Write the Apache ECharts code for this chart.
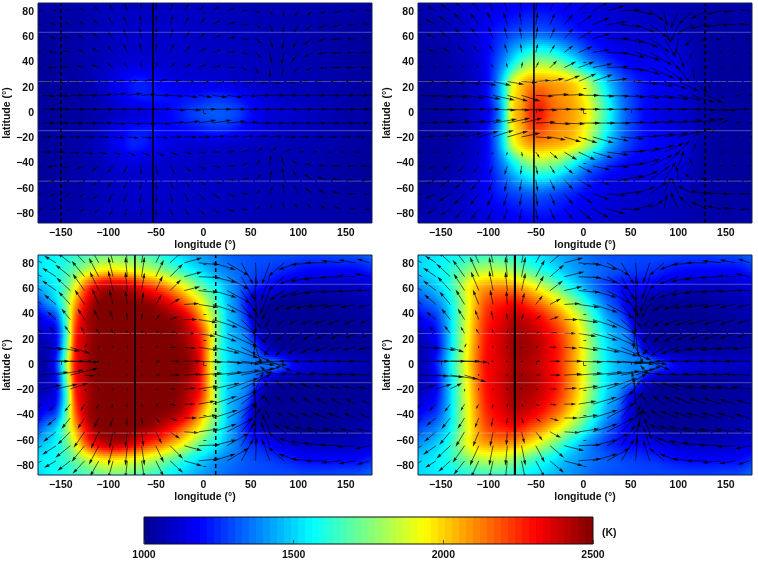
<!DOCTYPE html>
<html>
<head>
<meta charset="utf-8">
<style>html,body{margin:0;padding:0;background:#fff}#chart{width:758px;height:561px}</style>
<script src="https://cdn.jsdelivr.net/npm/echarts@6/dist/echarts.min.js"></script>
</head>
<body>
<div id="chart"></div>
<script>
// Temperature sample positions (degrees)
const tempLons = [-175,-165,-155,-145,-135,-125,-115,-105,-95,-85,-75,-65,-55,-45,-35,-25,-15,-5,5,15,25,35,45,55,65,75,85,95,105,115,125,135,145,155,165,178];
const tempLats = [88,75,63,50,38,25,13,0,-13,-25,-38,-50,-63,-75,-88];

// Temperature maps (K), one row per latitude from north to south
const temp1 = [
[1040,1040,1040,1040,1050,1050,1060,1060,1070,1070,1070,1080,1080,1080,1080,1080,1080,1080,1080,1070,1070,1070,1060,1060,1060,1060,1060,1060,1050,1050,1050,1050,1040,1040,1040,1040],
[1030,1030,1030,1040,1040,1050,1060,1070,1080,1080,1090,1090,1090,1090,1090,1090,1090,1090,1080,1080,1070,1070,1070,1060,1060,1060,1060,1050,1050,1050,1040,1040,1040,1040,1030,1030],
[1030,1030,1030,1030,1040,1050,1060,1070,1080,1090,1090,1100,1100,1100,1100,1100,1090,1090,1090,1080,1080,1070,1070,1070,1060,1060,1060,1060,1050,1050,1040,1040,1030,1030,1030,1030],
[1020,1020,1030,1030,1040,1050,1060,1070,1080,1090,1100,1100,1100,1100,1100,1100,1090,1090,1090,1090,1080,1080,1070,1070,1060,1060,1060,1060,1060,1050,1040,1040,1030,1030,1020,1020],
[1020,1020,1020,1030,1040,1050,1060,1080,1100,1120,1130,1130,1120,1110,1100,1100,1100,1100,1090,1090,1090,1080,1080,1070,1070,1060,1060,1060,1060,1050,1050,1040,1030,1030,1020,1020],
[1020,1020,1020,1030,1030,1050,1070,1100,1140,1170,1210,1220,1200,1170,1150,1130,1120,1120,1120,1120,1110,1100,1090,1080,1080,1070,1070,1060,1060,1060,1050,1050,1040,1030,1030,1020],
[1020,1020,1020,1030,1030,1040,1060,1090,1130,1160,1200,1220,1220,1210,1200,1200,1210,1220,1240,1250,1240,1210,1180,1150,1120,1100,1090,1080,1080,1070,1060,1060,1050,1040,1030,1030],
[1030,1020,1020,1020,1030,1030,1050,1060,1080,1100,1110,1120,1140,1160,1190,1220,1260,1290,1310,1320,1310,1280,1230,1170,1130,1110,1110,1110,1090,1080,1070,1060,1050,1040,1040,1030],
[1020,1020,1020,1030,1030,1040,1060,1090,1130,1160,1200,1210,1210,1190,1180,1190,1200,1220,1240,1250,1240,1210,1170,1140,1120,1100,1090,1080,1080,1070,1060,1060,1050,1040,1030,1030],
[1020,1020,1020,1030,1040,1050,1070,1100,1150,1190,1230,1220,1190,1160,1140,1120,1110,1110,1110,1110,1100,1090,1090,1080,1080,1070,1070,1060,1060,1060,1050,1050,1040,1030,1030,1020],
[1020,1020,1020,1030,1040,1050,1060,1080,1110,1130,1140,1130,1120,1110,1100,1100,1100,1090,1090,1090,1090,1080,1080,1070,1070,1060,1060,1060,1060,1050,1050,1040,1030,1030,1020,1020],
[1020,1020,1030,1030,1040,1050,1060,1070,1090,1100,1100,1100,1100,1100,1100,1090,1090,1090,1090,1090,1080,1080,1070,1070,1060,1060,1060,1060,1060,1050,1040,1040,1030,1030,1020,1020],
[1030,1030,1030,1030,1040,1050,1060,1070,1080,1090,1100,1100,1100,1100,1090,1090,1090,1090,1090,1080,1080,1070,1070,1070,1060,1060,1060,1060,1050,1050,1040,1040,1030,1030,1030,1030],
[1030,1030,1030,1040,1040,1050,1060,1070,1080,1080,1090,1090,1090,1090,1090,1090,1090,1080,1080,1080,1070,1070,1070,1060,1060,1060,1060,1050,1050,1050,1040,1040,1040,1040,1030,1030],
[1040,1040,1040,1040,1050,1050,1060,1060,1070,1070,1070,1080,1080,1080,1080,1080,1080,1080,1070,1070,1070,1070,1060,1060,1060,1060,1060,1060,1050,1050,1050,1050,1040,1040,1040,1040]
];
const temp2 = [
[1060,1060,1070,1080,1090,1100,1110,1120,1130,1150,1160,1170,1180,1180,1180,1170,1160,1150,1130,1120,1110,1100,1090,1080,1080,1070,1070,1060,1060,1050,1050,1040,1040,1040,1050,1050],
[1040,1050,1060,1070,1080,1100,1120,1140,1170,1190,1210,1230,1240,1240,1230,1210,1190,1170,1150,1130,1120,1110,1100,1090,1090,1080,1080,1070,1060,1050,1040,1040,1030,1030,1040,1040],
[1030,1040,1050,1060,1070,1090,1120,1160,1210,1250,1290,1320,1340,1340,1320,1290,1260,1220,1190,1160,1140,1120,1110,1110,1100,1100,1100,1090,1070,1050,1040,1030,1030,1030,1030,1030],
[1020,1030,1030,1040,1060,1080,1110,1150,1230,1320,1420,1510,1570,1580,1560,1500,1430,1360,1280,1230,1190,1160,1140,1130,1130,1130,1140,1130,1100,1060,1040,1030,1020,1020,1020,1020],
[1020,1020,1030,1030,1050,1070,1100,1150,1260,1400,1570,1730,1810,1830,1810,1760,1670,1560,1450,1370,1300,1240,1200,1170,1160,1160,1170,1160,1110,1070,1040,1030,1020,1020,1020,1020],
[1020,1020,1030,1030,1040,1060,1090,1140,1280,1520,1850,2000,2070,2080,2060,2040,2000,1920,1800,1630,1480,1370,1290,1230,1200,1180,1170,1150,1130,1090,1050,1030,1020,1020,1020,1020],
[1020,1020,1030,1030,1040,1060,1090,1150,1290,1530,1920,2060,2190,2210,2150,2100,2070,2000,1890,1730,1570,1420,1320,1250,1200,1170,1150,1130,1110,1090,1060,1040,1030,1030,1020,1020],
[1020,1020,1030,1030,1040,1060,1090,1140,1240,1500,1960,2090,2250,2280,2190,2130,2090,2030,1940,1770,1620,1450,1330,1250,1190,1160,1130,1120,1110,1080,1050,1030,1030,1030,1030,1030],
[1020,1020,1030,1030,1040,1060,1090,1150,1290,1530,1920,2060,2190,2210,2150,2100,2070,2000,1890,1730,1570,1420,1320,1250,1200,1170,1150,1130,1110,1090,1060,1040,1030,1030,1020,1020],
[1020,1020,1030,1030,1040,1060,1090,1140,1280,1520,1850,2000,2070,2080,2060,2040,2000,1920,1800,1630,1480,1370,1290,1230,1200,1180,1170,1150,1130,1090,1050,1030,1020,1020,1020,1020],
[1020,1020,1030,1030,1050,1070,1100,1150,1260,1400,1570,1730,1810,1830,1810,1760,1670,1560,1450,1370,1300,1240,1200,1170,1160,1160,1170,1150,1110,1070,1040,1030,1020,1020,1020,1020],
[1020,1030,1030,1040,1060,1080,1110,1150,1230,1320,1420,1510,1570,1580,1560,1500,1430,1360,1280,1230,1190,1160,1140,1130,1130,1130,1130,1120,1090,1060,1040,1030,1020,1020,1020,1020],
[1030,1040,1050,1060,1070,1090,1120,1160,1210,1250,1290,1320,1340,1340,1320,1290,1260,1220,1190,1160,1140,1120,1110,1110,1100,1100,1090,1080,1070,1050,1040,1030,1030,1030,1030,1030],
[1040,1050,1060,1070,1080,1100,1120,1140,1170,1190,1210,1230,1240,1240,1230,1210,1190,1170,1150,1130,1120,1110,1100,1090,1090,1080,1080,1070,1060,1050,1040,1040,1030,1030,1040,1040],
[1060,1060,1070,1080,1090,1100,1110,1120,1130,1150,1160,1170,1180,1180,1180,1170,1160,1150,1130,1120,1110,1100,1090,1080,1080,1070,1070,1060,1060,1050,1050,1040,1040,1040,1050,1050]
];
const temp3 = [
[1500,1540,1570,1600,1630,1660,1700,1730,1740,1730,1710,1680,1650,1610,1560,1510,1470,1430,1400,1370,1340,1320,1310,1300,1300,1300,1300,1300,1290,1290,1290,1290,1300,1300,1310,1340],
[1530,1560,1590,1640,1720,1820,1900,1960,1970,1950,1920,1880,1840,1780,1710,1650,1580,1520,1460,1400,1370,1340,1310,1290,1280,1260,1240,1220,1200,1190,1190,1190,1190,1190,1200,1240],
[1450,1500,1560,1700,1900,2150,2300,2390,2410,2400,2350,2280,2220,2150,2060,1960,1850,1730,1630,1540,1440,1360,1280,1230,1200,1160,1130,1110,1090,1090,1080,1080,1080,1080,1090,1120],
[1300,1400,1500,1750,2050,2300,2450,2500,2500,2500,2490,2470,2450,2390,2320,2220,2100,1960,1800,1630,1480,1360,1230,1100,1050,1020,1010,1010,1010,1010,1020,1020,1030,1040,1050,1080],
[1150,1220,1300,1680,2150,2400,2480,2500,2500,2500,2500,2500,2500,2490,2470,2420,2320,2130,1920,1720,1500,1400,1260,1060,1020,1010,1010,1010,1010,1010,1010,1010,1020,1020,1030,1050],
[1080,1110,1180,1620,2220,2400,2480,2500,2500,2500,2500,2500,2500,2500,2500,2470,2400,2280,2050,1720,1500,1420,1350,1150,1030,1010,1010,1010,1010,1010,1010,1010,1010,1010,1020,1030],
[1050,1070,1180,1680,2260,2410,2490,2500,2500,2500,2500,2500,2500,2500,2500,2490,2440,2330,2060,1700,1520,1450,1400,1300,1150,1050,1030,1020,1020,1020,1020,1020,1020,1020,1020,1030],
[1040,1060,1250,1780,2280,2420,2490,2500,2500,2500,2500,2500,2500,2500,2500,2500,2480,2350,2050,1700,1530,1450,1400,1370,1350,1350,1280,1180,1130,1110,1100,1090,1080,1070,1060,1050],
[1050,1070,1180,1680,2260,2410,2490,2500,2500,2500,2500,2500,2500,2500,2500,2490,2440,2330,2060,1700,1520,1450,1400,1300,1150,1050,1030,1020,1020,1020,1020,1020,1020,1020,1020,1030],
[1080,1110,1180,1620,2220,2400,2480,2500,2500,2500,2500,2500,2500,2500,2500,2470,2400,2280,2050,1720,1500,1420,1350,1150,1030,1010,1010,1010,1010,1010,1010,1010,1010,1010,1020,1030],
[1150,1220,1300,1680,2150,2400,2480,2500,2500,2500,2500,2500,2500,2490,2470,2420,2320,2130,1920,1720,1500,1400,1260,1060,1020,1010,1010,1010,1010,1010,1010,1010,1020,1020,1030,1050],
[1300,1400,1500,1750,2050,2300,2450,2500,2500,2500,2490,2470,2450,2390,2320,2220,2100,1960,1800,1630,1480,1360,1230,1100,1050,1020,1010,1010,1010,1010,1020,1020,1030,1040,1050,1080],
[1450,1500,1560,1700,1900,2150,2300,2390,2410,2400,2350,2280,2220,2150,2060,1960,1850,1730,1630,1540,1440,1360,1280,1230,1200,1160,1130,1110,1090,1090,1080,1080,1080,1080,1090,1120],
[1530,1560,1590,1640,1720,1820,1900,1960,1970,1950,1920,1880,1840,1780,1710,1650,1580,1520,1460,1400,1370,1340,1310,1290,1280,1260,1240,1220,1200,1190,1190,1190,1190,1190,1200,1240],
[1500,1540,1570,1600,1630,1660,1700,1730,1740,1730,1710,1680,1650,1610,1560,1510,1470,1430,1400,1370,1340,1320,1310,1300,1300,1300,1300,1300,1290,1290,1290,1290,1300,1300,1310,1340]
];
const temp4 = [
[1500,1520,1530,1550,1570,1600,1620,1640,1650,1630,1610,1580,1540,1510,1480,1440,1410,1380,1350,1320,1310,1300,1300,1290,1290,1290,1290,1290,1280,1280,1280,1280,1290,1290,1300,1340],
[1500,1520,1550,1590,1650,1730,1800,1830,1840,1830,1790,1730,1670,1610,1560,1500,1450,1410,1370,1340,1320,1300,1280,1270,1260,1250,1230,1210,1200,1190,1190,1190,1190,1190,1200,1240],
[1400,1440,1490,1570,1690,1870,1990,2060,2090,2100,2080,2030,1960,1870,1780,1680,1580,1490,1400,1330,1270,1220,1190,1180,1170,1150,1130,1110,1090,1090,1080,1080,1080,1090,1100,1130],
[1280,1330,1380,1490,1640,1850,2020,2170,2240,2270,2300,2260,2190,2120,2030,1930,1820,1700,1570,1440,1340,1260,1170,1080,1040,1020,1020,1020,1020,1020,1020,1030,1040,1050,1060,1080],
[1170,1220,1270,1430,1620,1850,2040,2220,2300,2350,2400,2390,2350,2290,2210,2120,2000,1870,1720,1560,1430,1340,1240,1050,1020,1010,1010,1010,1010,1010,1010,1020,1020,1030,1040,1060],
[1090,1130,1200,1400,1620,1860,2060,2250,2330,2380,2440,2440,2420,2370,2310,2220,2110,1970,1800,1630,1500,1420,1370,1180,1040,1010,1010,1010,1010,1010,1010,1010,1020,1020,1030,1040],
[1050,1090,1170,1400,1620,1880,2080,2270,2340,2390,2450,2460,2440,2400,2340,2260,2140,2000,1830,1660,1530,1450,1400,1330,1150,1060,1030,1020,1020,1020,1020,1020,1020,1030,1030,1040],
[1060,1100,1220,1450,1660,1900,2090,2280,2340,2380,2430,2440,2420,2380,2330,2250,2130,1990,1820,1660,1540,1460,1420,1380,1400,1320,1260,1190,1140,1120,1110,1110,1100,1090,1090,1080],
[1050,1090,1170,1400,1620,1880,2080,2270,2340,2390,2450,2460,2440,2400,2340,2260,2140,2000,1830,1660,1530,1450,1400,1330,1150,1060,1030,1020,1020,1020,1020,1020,1020,1030,1030,1040],
[1090,1130,1200,1400,1620,1860,2060,2250,2330,2380,2440,2440,2420,2370,2310,2220,2110,1970,1800,1630,1490,1400,1250,1080,1030,1010,1010,1010,1010,1010,1010,1010,1020,1020,1030,1040],
[1170,1220,1270,1430,1620,1850,2040,2220,2300,2350,2400,2390,2350,2290,2210,2120,2000,1870,1720,1560,1430,1340,1200,1050,1020,1010,1010,1010,1010,1010,1010,1020,1020,1030,1040,1060],
[1280,1330,1380,1490,1640,1850,2020,2170,2240,2270,2300,2260,2190,2120,2030,1930,1820,1700,1570,1440,1340,1260,1170,1090,1050,1030,1020,1020,1020,1020,1020,1030,1040,1050,1060,1080],
[1400,1440,1490,1570,1690,1870,1990,2060,2090,2100,2080,2030,1960,1870,1780,1680,1580,1490,1400,1330,1270,1220,1190,1180,1170,1150,1130,1110,1090,1090,1080,1080,1080,1090,1100,1130],
[1500,1520,1550,1590,1650,1730,1800,1830,1840,1830,1790,1730,1670,1610,1560,1500,1450,1410,1370,1340,1320,1300,1280,1270,1260,1250,1230,1210,1200,1190,1190,1190,1190,1190,1200,1240],
[1500,1520,1530,1550,1570,1600,1620,1640,1650,1630,1610,1580,1540,1510,1480,1440,1410,1380,1350,1320,1310,1300,1300,1290,1290,1290,1290,1290,1280,1280,1280,1280,1290,1290,1300,1340]
];

// Wind vector grid (degrees)
const windLons = [-170,-155,-140,-125,-110,-95,-80,-65,-50,-35,-20,-5,10,25,40,55,70,85,100,115,130,145,160,175];
const windLats = [81,70,59,48,36,25,14,3,-8,-19,-31,-42,-53,-64,-76];

// Eastward and northward wind components, rows north to south
const windU1 = [
[-4,-4,-4,-5,-5,-4,-3,-1,1,3,5,6,7,8,7,5,3,-1,-4,-6,-7,-7,-6,-5],
[-6,-6,-6,-6,-6,-5,-4,-2,1,3,5,7,8,9,8,6,3,-1,-5,-8,-9,-9,-8,-7],
[-7,-7,-7,-7,-6,-6,-4,-2,1,3,6,7,9,9,8,6,3,-2,-6,-9,-10,-10,-9,-8],
[-8,-8,-8,-7,-7,-6,-4,-2,1,4,6,8,9,9,8,6,2,-3,-7,-9,-10,-10,-9,-9],
[-10,-9,-8,-8,-7,-6,-4,-1,2,5,7,8,9,8,6,3,0,-3,-5,-7,-8,-9,-10,-10],
[10,10,10,11,11,12,12,12,12,12,11,11,11,11,12,12,12,12,11,11,11,11,11,10],
[14,14,14,14,14,14,15,15,15,14,14,14,15,16,16,15,15,14,14,14,14,14,14,14],
[15,15,15,15,15,15,16,16,16,16,17,18,19,19,18,16,16,15,15,15,15,15,15,15],
[14,14,14,14,14,14,15,15,15,15,16,18,19,19,17,16,15,14,14,14,14,14,14,14],
[11,11,11,11,11,12,12,12,13,13,13,13,13,13,13,13,13,13,12,12,11,11,11,11],
[10,10,10,10,9,9,9,9,9,8,8,8,8,8,8,8,7,7,6,5,4,4,5,7],
[-9,-9,-8,-8,-7,-6,-4,-1,2,5,7,8,9,8,7,5,1,-3,-6,-8,-9,-9,-9,-9],
[-8,-8,-8,-7,-6,-6,-4,-2,1,3,6,8,9,9,8,6,2,-2,-6,-9,-10,-10,-9,-8],
[-6,-6,-6,-6,-6,-5,-4,-2,1,3,5,7,8,9,8,6,3,-1,-5,-8,-9,-9,-8,-7],
[-4,-4,-4,-5,-5,-4,-3,-1,1,3,5,6,7,8,7,5,3,-1,-4,-6,-7,-7,-6,-5]
];
const windV1 = [
[1,1,2,3,5,7,8,8,8,8,7,6,5,3,1,-2,-5,-7,-6,-5,-3,-2,0,1],
[1,2,3,4,6,8,9,10,10,10,8,7,5,3,0,-4,-8,-10,-9,-6,-4,-2,0,1],
[1,2,3,4,6,8,10,11,11,10,8,6,4,2,-1,-5,-10,-12,-10,-6,-3,-1,0,1],
[1,1,2,3,5,7,9,10,10,9,7,5,3,1,-2,-6,-11,-13,-10,-5,-2,-1,0,0],
[0,0,1,2,3,5,6,6,6,5,4,3,2,0,-3,-7,-11,-9,-5,-3,-1,0,0,0],
[0,0,0,0,0,1,1,2,2,1,0,0,0,0,-1,-1,-2,-1,0,0,0,0,0,0],
[-1,-1,0,0,1,2,2,1,0,-1,-2,-2,-2,-2,-1,0,0,0,0,0,0,0,0,0],
[0,0,0,0,0,0,0,0,0,-1,-1,0,0,0,0,0,0,0,0,0,0,0,0,0],
[0,0,0,0,0,-1,-1,-1,-1,1,2,3,3,2,1,0,0,0,0,0,0,0,0,0],
[0,0,0,0,0,-1,-1,-1,-1,0,0,0,1,1,1,1,1,0,0,0,0,0,0,0],
[0,0,-1,-2,-2,-3,-4,-4,-4,-3,-2,-1,0,1,2,5,5,3,1,1,0,0,0,0],
[-1,-1,-2,-3,-5,-7,-8,-9,-9,-8,-6,-4,-2,0,3,7,11,10,6,3,1,0,0,0],
[-1,-2,-3,-4,-6,-8,-10,-11,-11,-10,-8,-6,-4,-1,2,6,10,13,10,6,3,1,0,-1],
[-1,-2,-3,-4,-6,-8,-9,-10,-10,-10,-8,-7,-5,-3,0,4,8,11,9,6,4,2,0,-1],
[-1,-1,-2,-3,-5,-7,-8,-8,-8,-8,-7,-6,-5,-3,-1,2,5,7,6,5,3,2,0,-1]
];
const windU2 = [
[-8,-9,-10,-10,-8,-6,-4,-2,2,5,9,13,16,18,19,18,14,3,-8,-14,-16,-15,-13,-10],
[-9,-11,-12,-11,-9,-6,-4,-2,2,5,9,14,17,20,21,20,18,6,-8,-16,-18,-17,-14,-11],
[-8,-10,-11,-10,-8,-5,-3,-2,2,5,9,14,18,22,23,23,20,12,-3,-8,-7,-6,-5,-6],
[-6,-8,-8,-7,-6,-4,-3,-1,2,5,9,14,18,22,24,25,23,16,6,-3,-3,-2,-2,-3],
[-3,-3,-3,-3,-3,-2,-1,1,3,7,12,16,20,22,24,25,25,20,12,2,-1,-1,-1,-2],
[14,15,16,17,18,18,17,16,15,14,16,18,20,21,22,23,24,23,21,16,4,2,2,3],
[16,17,18,20,22,22,21,19,18,19,20,21,22,23,24,25,25,25,24,22,17,4,5,8],
[18,19,20,21,22,23,23,23,22,22,22,22,22,23,23,24,24,24,24,24,23,16,14,16],
[17,18,20,22,23,24,23,21,20,21,21,22,23,24,24,25,25,25,24,23,18,8,5,8],
[14,15,16,18,20,21,21,19,17,16,17,19,21,22,23,24,25,24,23,19,9,3,3,4],
[-3,-3,-3,-3,-2,-2,-1,1,4,8,13,17,20,22,24,25,25,20,12,4,0,-1,-1,-2],
[-6,-8,-8,-7,-6,-4,-3,-1,2,5,9,14,18,22,24,25,23,16,6,-3,-3,-2,-2,-3],
[-8,-10,-11,-10,-8,-5,-3,-2,2,5,9,14,18,22,23,23,20,12,-2,-8,-7,-6,-6,-6],
[-9,-11,-12,-11,-9,-6,-4,-2,2,5,9,14,17,20,21,20,18,7,-7,-15,-17,-16,-14,-11],
[-8,-9,-10,-10,-8,-6,-4,-2,2,5,9,13,16,18,19,18,14,3,-8,-14,-16,-15,-13,-10]
];
const windV2 = [
[3,5,7,10,11,12,12,12,12,12,11,11,9,5,1,-4,-10,-16,-18,-14,-8,-4,-1,1],
[3,6,9,12,12,13,13,13,13,12,11,10,7,3,-2,-8,-13,-18,-18,-10,-4,-2,0,1],
[2,5,8,10,11,12,12,12,12,11,10,8,5,0,-4,-9,-14,-19,-16,-8,-2,-1,0,0],
[1,3,5,6,7,8,9,9,9,8,7,6,3,-1,-5,-8,-13,-18,-16,-6,-1,0,0,0],
[0,1,2,2,3,4,5,6,6,7,6,6,4,1,-3,-7,-11,-14,-16,-12,-2,0,0,0],
[0,-1,-2,-3,-4,-4,-3,-1,1,3,6,8,7,3,0,-3,-5,-7,-10,-12,-8,-1,0,0],
[-1,-2,-2,-3,-4,-5,-6,-6,-1,1,1,0,-1,-1,-2,-3,-3,-4,-5,-7,-8,-4,-1,0],
[0,0,0,0,0,-1,-1,-1,-1,0,0,0,0,0,0,0,0,0,0,-1,-1,-1,0,0],
[1,1,2,2,3,4,5,5,1,-1,-1,0,0,0,1,1,2,2,3,4,5,3,1,0],
[1,2,3,4,6,7,6,4,-1,-3,-5,-6,-6,-4,-2,1,3,4,6,9,9,2,0,0],
[0,0,-1,-2,-3,-3,-4,-5,-6,-7,-8,-8,-6,-3,1,4,7,9,12,10,3,0,0,0],
[-1,-3,-4,-6,-7,-8,-9,-9,-9,-8,-8,-7,-4,-1,3,7,11,15,16,8,1,0,0,0],
[-2,-4,-7,-9,-11,-12,-12,-12,-12,-11,-10,-8,-5,-1,4,9,14,18,15,6,2,0,0,0],
[-3,-5,-8,-11,-12,-13,-13,-13,-13,-12,-11,-10,-6,-2,2,7,12,17,16,8,3,1,0,0],
[-3,-5,-7,-10,-11,-12,-12,-12,-12,-12,-11,-11,-9,-5,-1,4,9,15,17,13,7,3,1,-1]
];
const windU3 = [
[-10,-12,-13,-12,-9,-5,-2,3,8,13,18,21,23,22,12,1,-8,-16,-20,-22,-22,-20,-17,-13],
[-12,-14,-15,-13,-10,-5,-2,3,8,13,18,22,24,22,13,-1,-9,-16,-20,-23,-24,-22,-19,-15],
[-12,-14,-14,-12,-9,-5,-2,3,7,11,16,20,24,24,15,1,-10,-15,-18,-22,-23,-21,-18,-14],
[-10,-12,-12,-10,-7,-4,-2,2,6,10,15,20,24,27,20,0,-8,-10,-14,-18,-20,-18,-15,-12],
[-8,-9,-9,-7,-5,-3,-1,1,4,8,13,19,25,30,25,-1,-5,-7,-10,-12,-14,-14,-12,-10],
[-5,-7,-6,-4,-3,-2,-1,1,3,6,11,17,24,31,28,-2,-6,-8,-9,-10,-11,-11,-10,-8],
[22,24,20,3,-1,-1,0,1,3,6,12,20,27,32,30,6,-6,-9,-11,-12,-13,-13,-13,-12],
[28,29,29,8,1,0,1,2,5,10,17,24,30,33,34,32,22,-28,-20,-20,-20,-20,-21,-22],
[27,28,28,10,1,0,1,2,5,10,17,24,30,33,34,26,-10,-18,-18,-18,-18,-19,-20,-21],
[20,22,18,2,-1,-1,0,1,3,6,12,20,27,32,30,8,-6,-9,-11,-12,-13,-13,-13,-12],
[-6,-7,-6,-4,-3,-2,-1,1,3,6,11,17,24,31,28,-2,-6,-8,-9,-10,-11,-11,-10,-8],
[-8,-9,-9,-7,-5,-3,-1,1,4,8,13,19,25,30,25,-1,-5,-7,-10,-12,-14,-14,-12,-10],
[-11,-13,-13,-11,-8,-4,-2,2,6,10,15,20,24,27,20,0,-8,-11,-15,-19,-21,-19,-16,-13],
[-12,-14,-15,-13,-10,-5,-2,3,8,13,18,22,24,22,13,-1,-9,-16,-20,-23,-24,-22,-19,-15],
[-10,-12,-13,-12,-9,-5,-2,3,8,13,18,21,23,22,12,1,-8,-16,-20,-22,-22,-20,-17,-13]
];
const windV3 = [
[5,7,10,13,16,18,18,18,16,12,5,-2,-7,-13,-22,-24,-22,-14,-7,-2,0,2,3,4],
[6,9,12,16,19,20,20,20,17,13,5,-1,-6,-13,-23,-26,-24,-14,-8,-5,-3,-1,1,3],
[7,10,13,17,19,20,19,18,15,11,4,-2,-7,-13,-23,-28,-24,-10,-7,-5,-3,-2,-1,0],
[7,10,13,15,16,15,14,13,10,6,1,-3,-8,-14,-24,-30,-16,-6,-5,-4,-3,-3,-3,-3],
[6,8,11,11,10,9,8,7,5,3,0,-3,-8,-15,-24,-30,-8,-6,-5,-5,-5,-5,-5,-4],
[5,7,8,7,5,5,4,4,3,2,0,-3,-8,-14,-22,-24,-8,-8,-7,-7,-6,-6,-5,-4],
[-2,-4,-6,4,2,2,2,1,1,0,-1,-3,-6,-11,-15,-17,-9,-9,-7,-6,-4,-3,-3,-2],
[0,0,-1,0,0,0,0,0,0,0,0,-1,-2,-3,-4,-4,-10,-1,0,0,0,0,0,0],
[3,5,7,-1,-1,0,0,0,0,0,1,2,3,5,7,9,9,3,2,2,2,1,1,1],
[4,5,6,-3,-2,-2,-2,-1,-1,0,1,3,6,11,15,17,9,9,7,6,4,3,3,2],
[-5,-7,-8,-7,-5,-5,-4,-4,-3,-2,0,3,8,14,22,24,8,8,7,7,6,6,5,4],
[-6,-8,-11,-11,-10,-9,-8,-7,-5,-3,0,3,8,15,24,30,8,6,5,5,5,5,5,4],
[-7,-10,-13,-16,-17,-17,-16,-15,-12,-7,-1,3,8,14,24,30,18,8,6,5,4,3,3,3],
[-6,-9,-12,-16,-19,-20,-20,-20,-17,-13,-5,1,6,13,23,26,24,14,8,5,3,1,-1,-3],
[-5,-7,-10,-13,-16,-18,-18,-18,-16,-12,-5,2,7,13,22,24,22,14,7,2,0,-2,-3,-4]
];
const windU4 = [
[-9,-11,-12,-11,-8,-4,-2,4,9,14,19,23,25,23,13,2,-7,-15,-19,-21,-21,-19,-16,-12],
[-11,-13,-14,-12,-9,-4,-2,4,9,14,20,23,25,22,13,0,-8,-15,-20,-22,-23,-21,-18,-14],
[-11,-13,-13,-11,-8,-4,-2,4,8,13,18,22,24,24,16,2,-10,-15,-19,-22,-23,-21,-18,-14],
[-10,-12,-11,-9,-6,-3,-1,3,7,11,16,21,25,27,21,0,-9,-12,-15,-19,-21,-19,-16,-13],
[-8,-10,-9,-7,-4,-2,-1,2,5,9,14,20,25,30,26,-2,-7,-11,-15,-18,-19,-18,-16,-13],
[-6,-7,-6,-4,-3,-1,0,2,4,7,12,18,25,30,28,3,-7,-11,-14,-17,-18,-18,-16,-13],
[18,20,14,2,-1,-1,0,1,3,7,13,20,27,31,30,8,-8,-14,-18,-20,-21,-21,-20,-18],
[28,30,30,24,2,1,1,2,5,11,18,24,30,33,33,32,20,-28,-24,-24,-24,-24,-25,-26],
[27,28,28,22,1,0,1,2,5,11,18,24,30,33,34,26,-10,-22,-24,-24,-25,-25,-25,-26],
[14,16,12,0,-1,-1,0,1,3,7,13,20,27,30,26,-4,-9,-14,-18,-20,-21,-21,-20,-18],
[-6,-7,-6,-4,-3,-1,0,2,4,7,12,18,24,28,20,-2,-8,-12,-15,-18,-18,-18,-16,-13],
[-8,-10,-9,-7,-4,-2,-1,2,5,9,14,20,25,28,22,5,-8,-14,-18,-20,-21,-20,-18,-15],
[-10,-12,-11,-9,-6,-3,-1,3,7,11,16,21,25,27,22,8,-6,-15,-20,-24,-25,-23,-20,-15],
[-11,-13,-14,-12,-9,-4,-2,4,9,14,20,23,25,22,14,4,-7,-17,-22,-24,-25,-23,-19,-15],
[-9,-11,-12,-11,-8,-4,-2,4,9,14,19,23,25,23,13,2,-7,-15,-19,-21,-21,-19,-16,-12]
];
const windV4 = [
[5,7,11,14,17,18,19,19,17,12,5,-2,-7,-13,-22,-24,-21,-13,-7,-2,0,2,3,4],
[6,9,13,17,20,20,20,20,17,12,5,-1,-6,-13,-23,-26,-23,-13,-8,-5,-3,-1,1,3],
[7,10,14,17,19,20,19,18,15,10,4,-2,-7,-13,-23,-28,-22,-10,-7,-5,-3,-2,-1,0],
[7,10,13,15,15,15,14,12,9,6,1,-3,-8,-14,-24,-30,-14,-7,-5,-4,-3,-3,-3,-3],
[6,8,11,11,10,9,7,6,4,3,0,-3,-8,-15,-24,-30,-7,-7,-6,-6,-5,-5,-5,-4],
[5,7,8,7,5,5,4,3,2,1,0,-3,-7,-13,-20,-24,-8,-9,-8,-7,-6,-6,-5,-4],
[-1,-3,-5,4,2,2,2,1,1,0,-1,-3,-5,-9,-13,-17,-8,-9,-7,-5,-3,-3,-2,-2],
[0,0,0,-1,0,0,0,0,0,0,0,-1,-1,-2,-3,-3,-9,-2,0,0,0,0,0,0],
[-1,-2,-4,-7,-1,0,0,0,0,0,1,2,3,4,6,9,10,3,1,1,1,1,1,1],
[4,5,6,-3,-2,-2,-2,-1,-1,0,1,3,6,11,16,18,9,9,7,5,3,3,2,2],
[-5,-7,-8,-7,-5,-5,-4,-3,-2,-1,0,3,7,13,24,26,8,9,8,7,6,6,5,4],
[-6,-8,-11,-11,-10,-9,-7,-6,-4,-3,0,3,8,15,26,14,8,8,7,6,5,5,5,4],
[-7,-10,-13,-15,-15,-15,-14,-12,-9,-6,-1,3,8,14,22,24,14,8,6,5,4,3,3,3],
[-6,-9,-13,-17,-20,-20,-20,-20,-17,-12,-5,1,6,13,21,25,20,12,8,5,3,1,-1,-3],
[-5,-7,-11,-14,-17,-18,-19,-19,-17,-12,-5,2,7,13,22,24,21,13,7,2,0,-2,-3,-4]
];

// Reference meridians per panel and the shared parallels (degrees)
const parallels = [64, 25, -14, -54];
const solidMeridians = [-53, -52, -72, -72];
const dashedMeridians = [-150, 128, 13, -72];

// Axis ticks and colour bar ticks
const lonTicks = [-150,-100,-50,0,50,100,150];
const latTicks = [-80,-60,-40,-20,0,20,40,60,80];
const barTicks = [1000,1500,2000,2500];

const LON_MIN = -174, LON_MAX = 177.5, LAT_MAX = 87.2, T_MIN = 1000, T_MAX = 2500;
const FONT = '"Liberation Sans", Arial, sans-serif';

// MATLAB-style jet colour scale
const JET = [[0,0,0,143],[.125,0,0,255],[.375,0,255,255],[.625,255,255,0],[.875,255,0,0],[1,128,0,0]];
function jet(T) {
  const t = Math.min(1, Math.max(0, (T - T_MIN) / (T_MAX - T_MIN)));
  for (let k = 1; k < JET.length; k++) {
    if (t <= JET[k][0]) {
      const a = JET[k-1], b = JET[k], f = (t - a[0]) / (b[0] - a[0]);
      return 'rgb(' + [1,2,3].map(c => Math.round(a[c] + (b[c]-a[c])*f)).join(',') + ')';
    }
  }
  return 'rgb(128,0,0)';
}

// Smooth shading between stored samples (Catmull-Rom), used only when painting a cell
function cubic(p0, p1, p2, p3, t) {
  return p1 + 0.5*t*(p2-p0 + t*(2*p0-5*p1+4*p2-p3 + t*(3*(p1-p2)+p3-p0)));
}
function shade(field, i, j, s, t) {
  const nr = field.length, nc = field[0].length, rows = [];
  for (let m = -1; m <= 2; m++) {
    const r = field[Math.min(nr-1, Math.max(0, j+m))];
    const at = n => r[Math.min(nc-1, Math.max(0, i+n))];
    rows.push(cubic(at(-1), at(0), at(1), at(2), s));
  }
  return cubic(rows[0], rows[1], rows[2], rows[3], t);
}

function fieldSeries(field, axis) {
  const cells = [];
  for (let j = 0; j < tempLats.length-1; j++) {
    for (let i = 0; i < tempLons.length-1; i++) cells.push([i, j]);
  }
  return {
    type: 'custom', xAxisIndex: axis, yAxisIndex: axis, clip: true, silent: true, z: 1,
    data: cells, dimensions: ['i','j'], encode: {x: [], y: []},
    renderItem: (params, api) => {
      const i = api.value(0), j = api.value(1);
      const x0 = Math.round(api.coord([tempLons[i], 0])[0]);
      const x1 = Math.round(api.coord([tempLons[i+1], 0])[0]);
      const y0 = Math.round(api.coord([0, tempLats[j]])[1]);
      const y1 = Math.round(api.coord([0, tempLats[j+1]])[1]);
      const children = [];
      for (let y = y0; y < y1; y += 2) {
        const t = (y + 1 - y0) / (y1 - y0), stops = [];
        for (let k = 0; k <= 4; k++) {
          stops.push({offset: k/4, color: jet(shade(field, i, j, k/4, Math.min(1, t)))});
        }
        children.push({
          type: 'rect',
          shape: {x: x0, y: y, width: x1-x0, height: Math.min(2, y1-y)},
          style: {fill: new echarts.graphic.LinearGradient(0,0,1,0,stops)}
        });
      }
      return {type: 'group', children};
    }
  };
}

function windSeries(u, v, axis) {
  const arrows = [];
  windLats.forEach((lat, j) => windLons.forEach((lon, i) => arrows.push([lon, lat, u[j][i], v[j][i]])));
  return {
    type: 'custom', xAxisIndex: axis, yAxisIndex: axis, clip: true, silent: true, z: 3,
    data: arrows, dimensions: ['lon','lat','u','v'], encode: {x: 0, y: 1},
    renderItem: (params, api) => {
      const p = api.coord([api.value(0), api.value(1)]);
      const dx = api.value(2), dy = -api.value(3);
      const len = Math.hypot(dx, dy);
      if (len < 0.5) return {type: 'group', children: []};
      const ux = dx/len, uy = dy/len, tip = [p[0]+dx, p[1]+dy];
      const hl = Math.min(5.5, 2 + len*0.25), hw = hl*0.28;
      const base = [tip[0]-ux*hl, tip[1]-uy*hl];
      return {type: 'group', children: [
        {type: 'line', shape: {x1: p[0], y1: p[1], x2: base[0], y2: base[1]},
         style: {stroke: 'rgba(0,0,0,.82)', lineWidth: 0.8}},
        {type: 'polygon', shape: {points: [tip,
           [base[0]-uy*hw, base[1]+ux*hw], [base[0]+uy*hw, base[1]-ux*hw]]},
         style: {fill: 'rgba(0,0,0,.88)'}}
      ]};
    }
  };
}

function lineSeries(points, axis, style, z) {
  return {type: 'line', xAxisIndex: axis, yAxisIndex: axis, data: points, showSymbol: false,
          silent: true, z, lineStyle: style, clip: true};
}

const labelStyle = {fontFamily: FONT, fontWeight: 'bold', fontSize: 10.5, color: '#111'};
const minusText = v => String(v).replace('-', '\u2212');

const panels = [
  {left: 38, top: 3, field: temp1, u: windU1, v: windV1, w: 1.6},
  {left: 418, top: 3, field: temp2, u: windU2, v: windV2, w: 1.6},
  {left: 38, top: 255, field: temp3, u: windU3, v: windV3, w: 1.6},
  {left: 418, top: 255, field: temp4, u: windU4, v: windV4, w: 2.2}
];

const grids = [], xAxes = [], yAxes = [], series = [];
panels.forEach((p, n) => {
  grids.push({left: p.left, top: p.top, width: 334, height: 220, show: true,
              borderColor: '#16204a', borderWidth: 1, backgroundColor: 'transparent', z: 5});
  xAxes.push({type: 'value', gridIndex: n, min: LON_MIN, max: LON_MAX, splitLine: {show: false},
    name: 'longitude (\u00b0)', nameLocation: 'middle', nameGap: 16, nameTextStyle: labelStyle,
    axisLine: {show: false}, z: 6,
    axisTick: {inside: true, length: 3, customValues: lonTicks, lineStyle: {color: '#111', width: .7}},
    axisLabel: {...labelStyle, margin: 5, customValues: lonTicks, formatter: minusText}});
  yAxes.push({type: 'value', gridIndex: n, min: -LAT_MAX, max: LAT_MAX, splitLine: {show: false},
    name: 'latitude (\u00b0)', nameLocation: 'middle', nameGap: 24, nameTextStyle: labelStyle,
    axisLine: {show: false}, z: 6,
    axisTick: {inside: true, length: 3, customValues: latTicks, lineStyle: {color: '#111', width: .7}},
    axisLabel: {...labelStyle, margin: 4, customValues: latTicks, formatter: minusText}});
  series.push(fieldSeries(p.field, n));
  series.push(windSeries(p.u, p.v, n));
  parallels.forEach((lat, k) => series.push(lineSeries([[LON_MIN, lat],[LON_MAX, lat]], n,
    {color: 'rgba(235,240,255,.45)', width: .7, type: k === 0 || k === 2 ? 'solid' : [14,1.5]}, 4)));
  series.push(lineSeries([[solidMeridians[n], -LAT_MAX],[solidMeridians[n], LAT_MAX]], n,
    {color: '#000', width: p.w, type: 'solid'}, 4));
  series.push(lineSeries([[dashedMeridians[n], -LAT_MAX],[dashedMeridians[n], LAT_MAX]], n,
    {color: '#000', width: 1.5, type: [4,3]}, 4));
});

// Colour bar: 64 discrete levels spanning the temperature scale
const barLevels = [];
for (let k = 0; k < 64; k++) barLevels.push([T_MIN + k*(T_MAX-T_MIN)/64, T_MIN + (k+1)*(T_MAX-T_MIN)/64]);
grids.push({left: 144, top: 517, width: 449, height: 30, show: true, borderColor: '#111', borderWidth: 1, z: 5});
xAxes.push({type: 'value', gridIndex: 4, min: T_MIN, max: T_MAX, splitLine: {show: false},
  axisLine: {show: false}, z: 6,
  axisTick: {inside: true, length: 4, customValues: barTicks, lineStyle: {color: '#333', width: .8}},
  axisLabel: {...labelStyle, margin: 6, customValues: barTicks, formatter: v => String(v)}});
yAxes.push({type: 'value', gridIndex: 4, min: 0, max: 1, show: false});
series.push({type: 'custom', xAxisIndex: 4, yAxisIndex: 4, silent: true, z: 1, clip: true,
  data: barLevels, encode: {x: [0,1], y: []},
  renderItem: (params, api) => {
    const a = api.coord([api.value(0), 1]), b = api.coord([api.value(1), 0]);
    const x0 = Math.floor(a[0]), x1 = Math.ceil(b[0]);
    return {type: 'rect', shape: {x: x0, y: a[1], width: x1-x0, height: b[1]-a[1]},
            style: {fill: jet((api.value(0)+api.value(1))/2)}};
  }});

const chart = echarts.init(document.getElementById('chart'), null, {renderer: 'canvas', width: 758, height: 561});
chart.setOption({
  animation: false,
  backgroundColor: '#fff',
  grid: grids, xAxis: xAxes, yAxis: yAxes, series,
  graphic: [{type: 'text', left: 602, top: 528, silent: true,
    style: {text: '(K)', font: 'bold 10.5px ' + FONT, fill: '#111'}}]
});
</script>
</body>
</html>
